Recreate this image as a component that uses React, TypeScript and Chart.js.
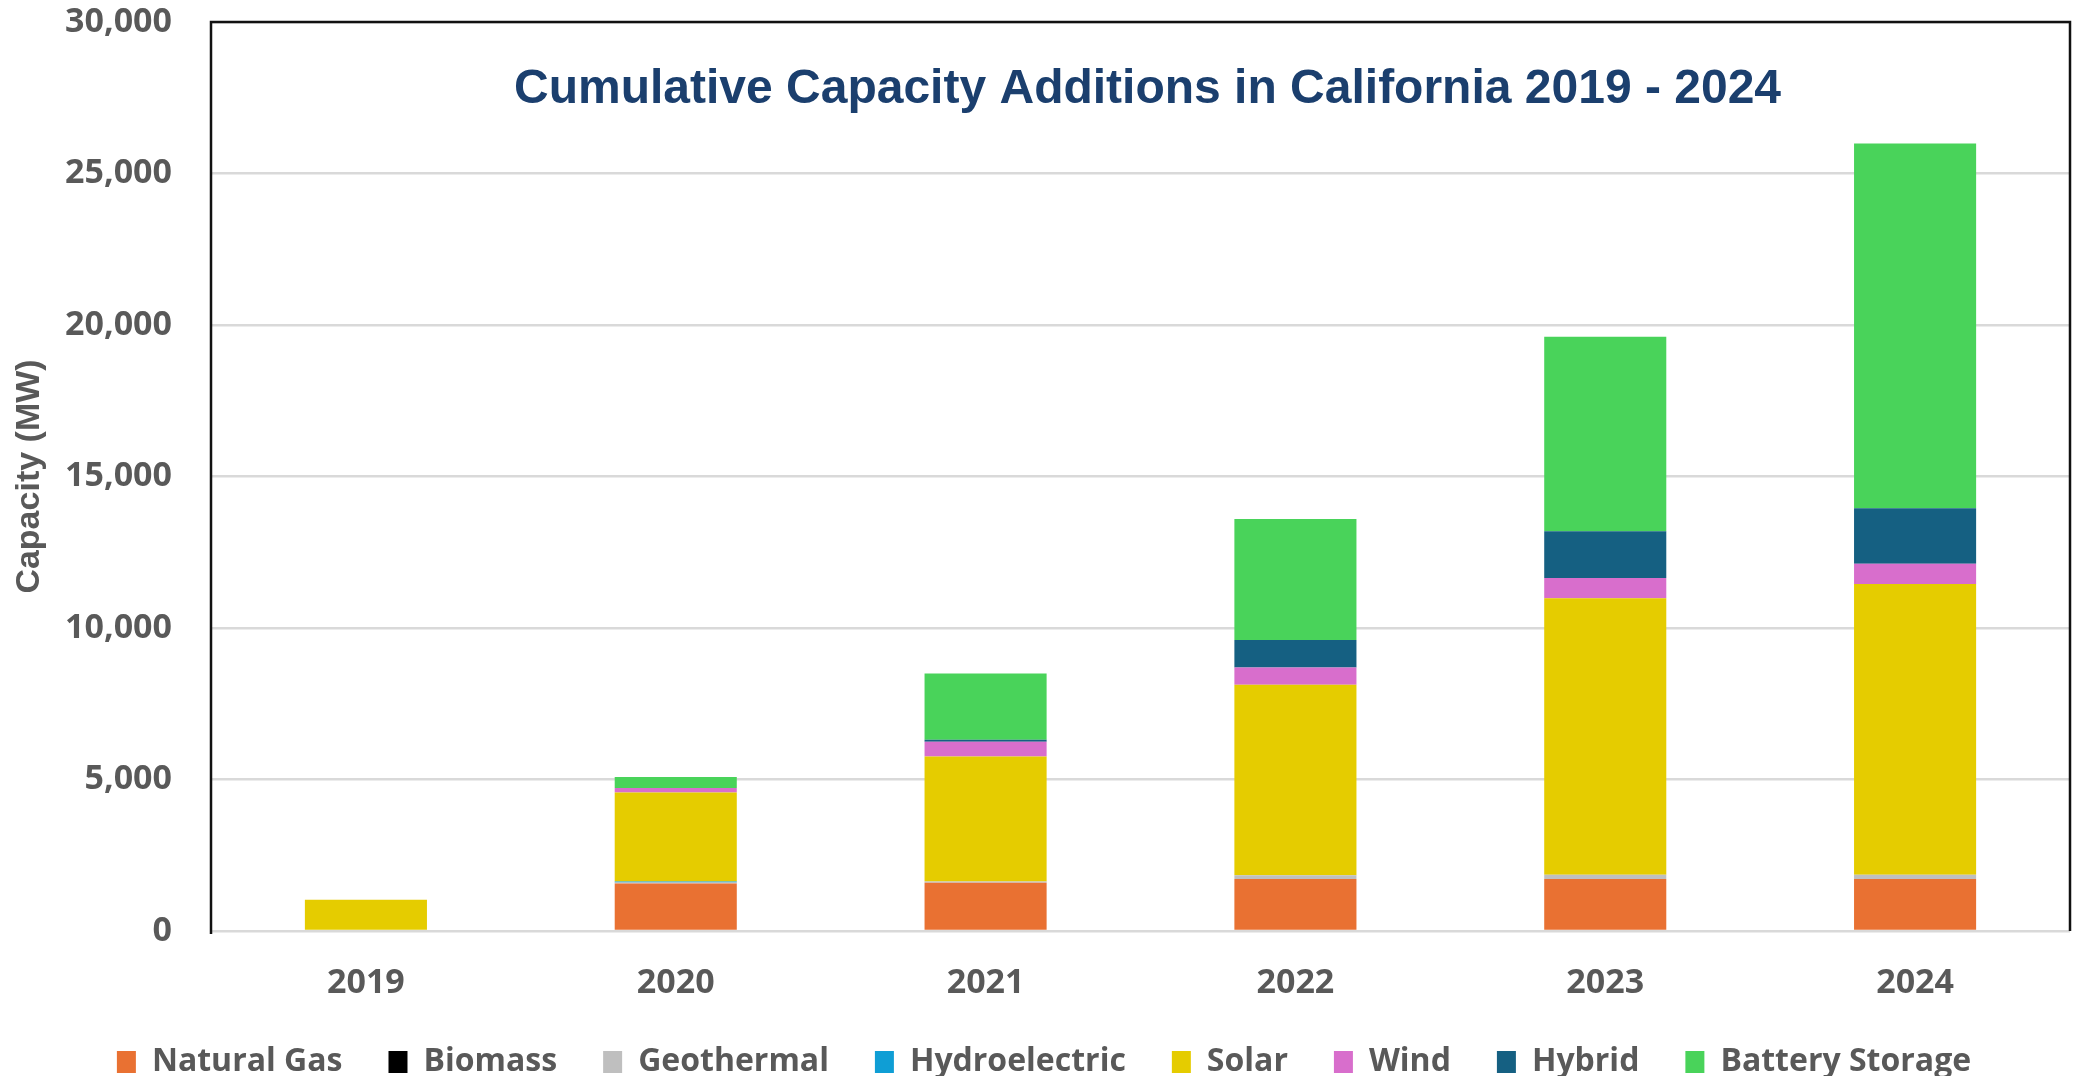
import { useEffect, useRef } from "react";
import { Chart, registerables } from "chart.js";

Chart.register(...registerables);

const years = ["2019", "2020", "2021", "2022", "2023", "2024"];
const naturalGas = [0, 1570, 1590, 1720, 1720, 1720];
const biomass = [0, 0, 0, 0, 0, 0];
const geothermal = [0, 30, 40, 120, 140, 140];
const hydroelectric = [0, 30, 0, 0, 0, 0];
const solar = [1030, 2940, 4130, 6290, 9120, 9590];
const wind = [0, 150, 490, 570, 670, 670];
const hybrid = [0, 0, 60, 900, 1540, 1830];
const batteryStorage = [0, 360, 2190, 4000, 6420, 12040];

const seriesNames = ["Natural Gas", "Biomass", "Geothermal", "Hydroelectric", "Solar", "Wind", "Hybrid", "Battery Storage"];
const seriesValues = [naturalGas, biomass, geothermal, hydroelectric, solar, wind, hybrid, batteryStorage];
const seriesColors = ["#E97132", "#000000", "#BFBFBF", "#0F9ED5", "#E5CC00", "#D86ECC", "#156082", "#49D35A"];

const chartTitle = "Cumulative Capacity Additions in California 2019 - 2024";
const yAxisTitle = "Capacity (MW)";
const yMin = 0;
const yMax = 30000;
const yStep = 5000;

const TEXT_GRAY = "#595959";

const titlePlugin = {
  id: "insideTitle",
  afterDraw(chart: any) {
    const { ctx, chartArea } = chart;
    ctx.save();
    ctx.font = "bold 48px 'Liberation Sans', Arial, sans-serif";
    ctx.fillStyle = "#1B3F6E";
    ctx.textAlign = "center";
    ctx.textBaseline = "middle";
    ctx.fillText(chartTitle, (chartArea.left + chartArea.right) / 2 + 7, chartArea.top + 68);
    ctx.restore();
  },
};

const framePlugin = {
  id: "plotFrame",
  afterDraw(chart: any) {
    const { ctx, chartArea } = chart;
    ctx.save();
    ctx.strokeStyle = "#111111";
    ctx.lineWidth = 2.5;
    ctx.beginPath();
    ctx.moveTo(chartArea.left, chartArea.bottom + 3);
    ctx.lineTo(chartArea.left, chartArea.top);
    ctx.lineTo(chartArea.right, chartArea.top);
    ctx.lineTo(chartArea.right, chartArea.bottom);
    ctx.stroke();
    ctx.restore();
  },
};

export default function App() {
  const ref = useRef<HTMLCanvasElement | null>(null);

  useEffect(() => {
    if (!ref.current) return;
    const chart = new Chart(ref.current, {
      type: "bar",
      data: {
        labels: years,
        datasets: seriesNames.map((name, i) => ({
          label: name,
          data: seriesValues[i],
          backgroundColor: seriesColors[i],
          borderWidth: 0,
          categoryPercentage: 1,
          barPercentage: 0.394,
        })),
      },
      options: {
        responsive: false,
        animation: false,
        devicePixelRatio: 1,
        layout: { padding: { top: 22, right: 3, bottom: -12, left: 18 } },
        plugins: {
          title: { display: false },
          tooltip: { enabled: false },
          legend: {
            display: true,
            position: "bottom",
            align: "center",
            labels: {
              boxWidth: 19,
              boxHeight: 22,
              padding: 46,
              color: TEXT_GRAY,
              font: { family: "'Open Sans', sans-serif", size: 32, weight: "bold" },
            },
          },
        },
        scales: {
          x: {
            stacked: true,
            grid: { display: false, drawTicks: false },
            border: { display: false },
            ticks: {
              color: TEXT_GRAY,
              padding: 32,
              font: { family: "'Open Sans', sans-serif", size: 34, weight: "bold" },
            },
            afterFit: (scale: any) => {
              scale.height = 69;
              scale.paddingLeft = 0;
              scale.paddingRight = 0;
            },
          },
          y: {
            stacked: true,
            min: yMin,
            max: yMax,
            grid: { color: "#D9D9D9", lineWidth: 2.5, drawTicks: false },
            border: { display: false },
            ticks: {
              stepSize: yStep,
              color: TEXT_GRAY,
              padding: 39,
              font: { family: "'Open Sans', sans-serif", size: 34, weight: "bold" },
              callback: (v: any) => Number(v).toLocaleString("en-US"),
            },
            title: {
              display: true,
              text: yAxisTitle,
              color: TEXT_GRAY,
              padding: { top: -9, bottom: 0 },
              font: { family: "'Liberation Sans', Arial, sans-serif", size: 34, weight: "bold" },
            },
            afterFit: (scale: any) => {
              scale.width = 193;
              scale.paddingTop = 0;
              scale.paddingBottom = 0;
            },
          },
        },
      },
      plugins: [titlePlugin, framePlugin],
    });
    return () => chart.destroy();
  }, []);

  return (
    <div style={{ position: "absolute", left: 0, top: 0, width: 2073, height: 1076, background: "#ffffff" }}>
      <canvas ref={ref} width={2073} height={1076} style={{ width: 2073, height: 1076, display: "block" }} />
    </div>
  );
}
